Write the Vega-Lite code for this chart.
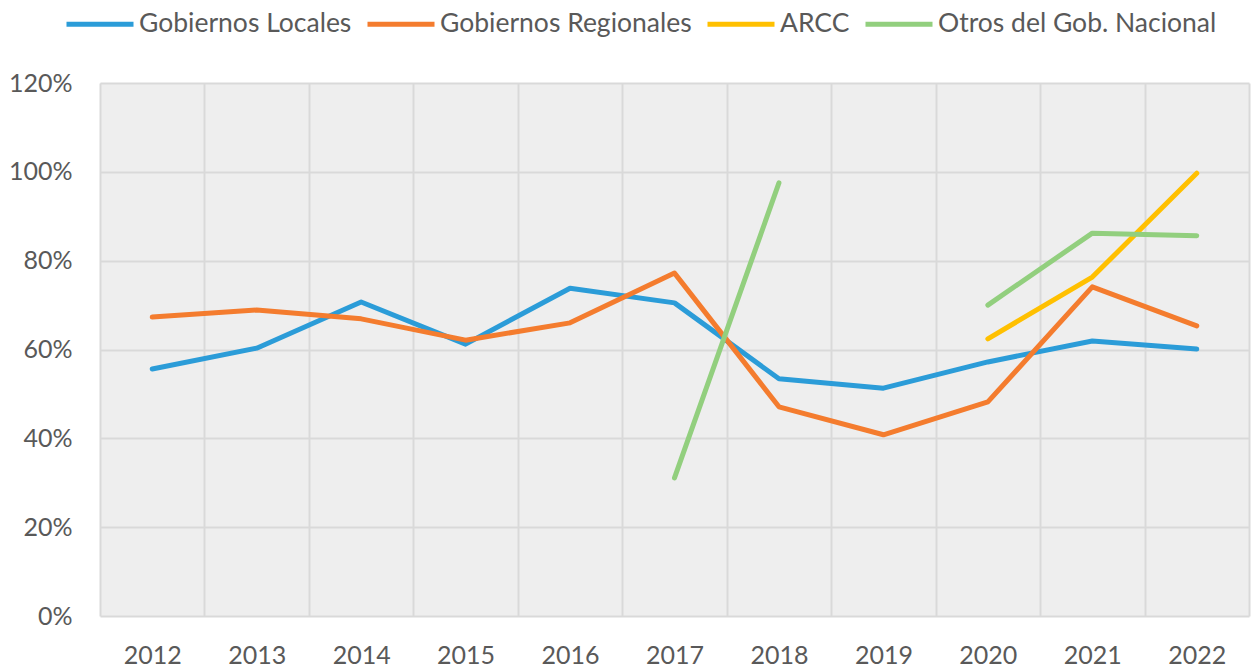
{
  "$schema": "https://vega.github.io/schema/vega-lite/v6.json",
  "width": 1149,
  "height": 533,
  "autosize": {"type": "none"},
  "padding": {"left": 100, "top": 83, "right": 4, "bottom": 55},
  "background": "white",
  "config": {
    "view": {"fill": "#eeeeee", "stroke": null},
    "font": "Lato",
    "axis": {"labelFont": "Lato", "labelColor": "#595959", "labelFontSize": 25, "ticks": false, "domain": false, "gridColor": "#d9d9d9", "gridWidth": 2, "title": null},
    "legend": {"labelFont": "Lato", "labelColor": "#595959", "labelFontSize": 26.5, "labelLimit": 0}
  },
  "data": {
    "values": [
      {"year": 2012, "serie": "Gobiernos Locales", "tramo": "a", "valor": 0.556},
      {"year": 2013, "serie": "Gobiernos Locales", "tramo": "a", "valor": 0.603},
      {"year": 2014, "serie": "Gobiernos Locales", "tramo": "a", "valor": 0.707},
      {"year": 2015, "serie": "Gobiernos Locales", "tramo": "a", "valor": 0.612},
      {"year": 2016, "serie": "Gobiernos Locales", "tramo": "a", "valor": 0.738},
      {"year": 2017, "serie": "Gobiernos Locales", "tramo": "a", "valor": 0.705},
      {"year": 2018, "serie": "Gobiernos Locales", "tramo": "a", "valor": 0.534},
      {"year": 2019, "serie": "Gobiernos Locales", "tramo": "a", "valor": 0.513},
      {"year": 2020, "serie": "Gobiernos Locales", "tramo": "a", "valor": 0.572},
      {"year": 2021, "serie": "Gobiernos Locales", "tramo": "a", "valor": 0.619},
      {"year": 2022, "serie": "Gobiernos Locales", "tramo": "a", "valor": 0.601},
      {"year": 2012, "serie": "Gobiernos Regionales", "tramo": "a", "valor": 0.673},
      {"year": 2013, "serie": "Gobiernos Regionales", "tramo": "a", "valor": 0.689},
      {"year": 2014, "serie": "Gobiernos Regionales", "tramo": "a", "valor": 0.669},
      {"year": 2015, "serie": "Gobiernos Regionales", "tramo": "a", "valor": 0.621},
      {"year": 2016, "serie": "Gobiernos Regionales", "tramo": "a", "valor": 0.660},
      {"year": 2017, "serie": "Gobiernos Regionales", "tramo": "a", "valor": 0.772},
      {"year": 2018, "serie": "Gobiernos Regionales", "tramo": "a", "valor": 0.471},
      {"year": 2019, "serie": "Gobiernos Regionales", "tramo": "a", "valor": 0.408},
      {"year": 2020, "serie": "Gobiernos Regionales", "tramo": "a", "valor": 0.482},
      {"year": 2021, "serie": "Gobiernos Regionales", "tramo": "a", "valor": 0.741},
      {"year": 2022, "serie": "Gobiernos Regionales", "tramo": "a", "valor": 0.653},
      {"year": 2020, "serie": "ARCC", "tramo": "a", "valor": 0.624},
      {"year": 2021, "serie": "ARCC", "tramo": "a", "valor": 0.763},
      {"year": 2022, "serie": "ARCC", "tramo": "a", "valor": 0.997},
      {"year": 2017, "serie": "Otros del Gob. Nacional", "tramo": "a", "valor": 0.311},
      {"year": 2018, "serie": "Otros del Gob. Nacional", "tramo": "a", "valor": 0.975},
      {"year": 2020, "serie": "Otros del Gob. Nacional", "tramo": "b", "valor": 0.700},
      {"year": 2021, "serie": "Otros del Gob. Nacional", "tramo": "b", "valor": 0.862},
      {"year": 2022, "serie": "Otros del Gob. Nacional", "tramo": "b", "valor": 0.856}
    ]
  },
  "mark": {"type": "line", "strokeWidth": 5, "strokeCap": "round", "strokeJoin": "round"},
  "encoding": {
    "x": {
      "field": "year", "type": "ordinal", "bandPosition": 0.5,
      "scale": {"type": "band", "paddingInner": 0, "paddingOuter": 0, "domain": [2012, 2013, 2014, 2015, 2016, 2017, 2018, 2019, 2020, 2021, 2022]},
      "axis": {"labelAngle": 0, "grid": true, "tickBand": "extent", "labelPadding": 27}
    },
    "y": {
      "field": "valor", "type": "quantitative",
      "scale": {"domain": [0, 1.2], "nice": false},
      "axis": {"values": [0, 0.2, 0.4, 0.6, 0.8, 1.0, 1.2], "format": ".0%", "labelPadding": 28, "grid": true}
    },
    "color": {
      "field": "serie", "type": "nominal",
      "scale": {"domain": ["Gobiernos Locales", "Gobiernos Regionales", "ARCC", "Otros del Gob. Nacional"], "range": ["#2B9CD8", "#F47C2E", "#FFC000", "#92CF7E"]},
      "legend": {"title": null, "orient": "none", "direction": "horizontal", "legendX": -36, "legendY": -95, "symbolType": "stroke", "symbolSize": 4489, "symbolStrokeWidth": 5, "labelOffset": 3, "columnPadding": 5}
    },
    "detail": {"field": "tramo", "type": "nominal"},
    "order": {"field": "year", "type": "ordinal"}
  }
}
